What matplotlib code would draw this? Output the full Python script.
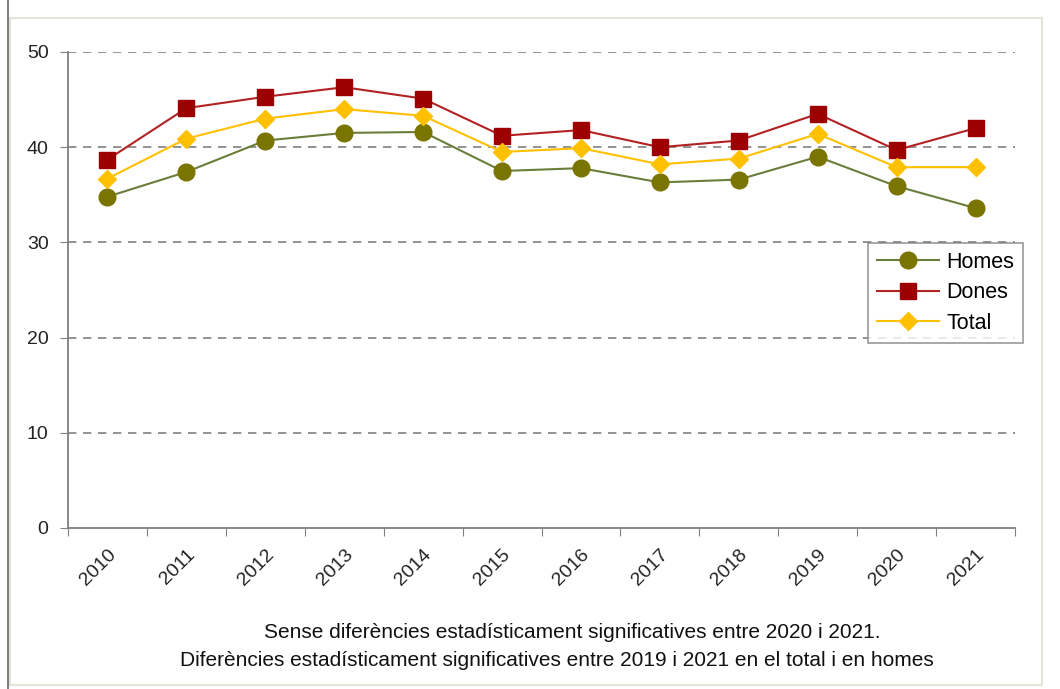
import matplotlib
matplotlib.use('Agg')
from matplotlib import pyplot as plt
from matplotlib.patches import Rectangle

plt.rcParams['font.family'] = ['Liberation Sans', 'DejaVu Sans']

years = ['2010', '2011', '2012', '2013', '2014', '2015',
         '2016', '2017', '2018', '2019', '2020', '2021']
homes = [34.8, 37.4, 40.7, 41.5, 41.6, 37.5, 37.8, 36.3, 36.6, 39.0, 35.9, 33.6]
dones = [38.7, 44.1, 45.3, 46.3, 45.1, 41.2, 41.8, 40.0, 40.7, 43.5, 39.7, 42.0]
total = [36.7, 40.9, 43.0, 44.0, 43.3, 39.5, 39.9, 38.2, 38.8, 41.4, 37.9, 37.9]
y_ticks = [0, 10, 20, 30, 40, 50]
notes = ['Sense diferències estadísticament significatives entre 2020 i 2021.',
         'Diferències estadísticament significatives entre 2019 i 2021 en el total i en homes']

fig = plt.figure(figsize=(10.6, 6.89), dpi=100)
fig.patch.set_facecolor('white')

# outer frame of the chart area
fig.patches.append(Rectangle((10 / 1060, 4 / 689), 1032 / 1060, 667 / 689,
                             transform=fig.transFigure, fill=False,
                             edgecolor='#e6e4d8', linewidth=1.5))
fig.add_artist(plt.Line2D([8 / 1060, 8 / 1060], [0, 1], transform=fig.transFigure,
                          color='#808080', linewidth=1.5))

ax = fig.add_axes([68 / 1060, 1 - 528 / 689, 947 / 1060, 476 / 689])
x = list(range(len(years)))

ax.plot(x, homes, color='#6b7d3a', linewidth=1.5, marker='o', markersize=12,
        markerfacecolor='#7a7400', markeredgecolor='#7a7400', label='Homes', zorder=3)
ax.plot(x, dones, color='#b22222', linewidth=1.5, marker='s', markersize=12,
        markerfacecolor='#9c0000', markeredgecolor='#9c0000', label='Dones', zorder=4)
ax.plot(x, total, color='#ffc000', linewidth=1.5, marker='D', markersize=9,
        markerfacecolor='#ffc000', markeredgecolor='#ffc000', label='Total', zorder=5)

ax.set_xlim(-0.5, len(years) - 0.5)
ax.set_ylim(0, 50)
ax.set_yticks(y_ticks)
ax.set_yticklabels([str(t) for t in y_ticks], fontsize=14, color='#222222')
for t in y_ticks[1:]:
    ax.axhline(t, color='#808080', linestyle=(0, (5, 4)), linewidth=1.2, zorder=1)

# category ticks sit between years, labels centred under each year
ax.set_xticks([i - 0.5 for i in range(len(years) + 1)])
ax.set_xticklabels([])
ax.set_xticks(x, minor=True)
ax.set_xticklabels(years, minor=True, rotation=45, ha='right', va='top',
                   rotation_mode='anchor', fontsize=14, color='#222222')
ax.tick_params(axis='x', which='minor', length=0, pad=13)
ax.tick_params(axis='x', which='major', length=6, color='#808080')
ax.tick_params(axis='y', length=6, color='#808080', pad=8)

for side in ['top', 'right']:
    ax.spines[side].set_visible(False)
for side in ['left', 'bottom']:
    ax.spines[side].set_color('#808080')
    ax.spines[side].set_linewidth(1.3)

leg = ax.legend(loc='upper left', bbox_to_anchor=(800 / 947, 1 - (243 - 52) / 476),
                fontsize=15.5, frameon=True, fancybox=False, borderpad=0.4,
                labelspacing=0.45, handlelength=2.9, handletextpad=0.35,
                borderaxespad=0)
leg.get_frame().set_edgecolor('#808080')
leg.get_frame().set_linewidth(1.2)

fig.text(572 / 1060, 1 - 633 / 689, notes[0], ha='center', va='center',
         fontsize=15, color='#111111')
fig.text(557 / 1060, 1 - 661 / 689, notes[1], ha='center', va='center',
         fontsize=15, color='#111111')

fig.savefig('out.png', dpi=100, facecolor='white')
